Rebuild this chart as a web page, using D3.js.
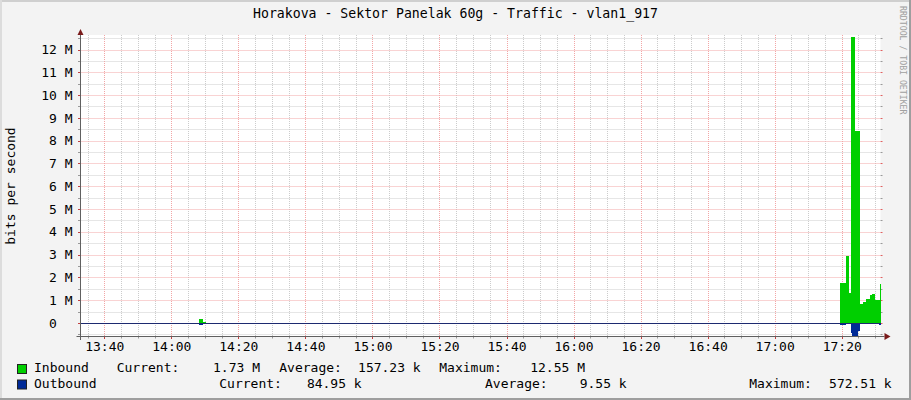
<!DOCTYPE html>
<html><head><meta charset="utf-8">
<script src="https://cdn.jsdelivr.net/npm/d3@7"></script>
<style>
body{margin:0;background:#f3f3f3;overflow:hidden}
svg text{font-family:"DejaVu Sans Mono",monospace;white-space:pre}
</style></head><body>
<svg id="c" width="911" height="400"></svg>
<script>
// ---------- data ----------
const title = "Horakova - Sektor Panelak 60g - Traffic - vlan1_917";
const yLabel = "bits per second";
const credit = "RRDTOOL / TOBI OETIKER";
const timeRange = ["13:32:54", "17:31:34"];
// step series: each value holds from its time until the next time (Mbit/s)
const inTimes  = ["13:32:54","14:08:20","14:09:32","14:10:26","17:19:30","17:21:17","17:22:11","17:22:52","17:23:58","17:25:27","17:26:21","17:27:15","17:28:26","17:29:02","17:29:56","17:31:18","17:31:34"];
const inValues = [0, 0.17, 0.04, 0, 1.76, 2.93, 1.32, 12.55, 8.41, 0.84, 0.90, 1.07, 1.24, 1.27, 1.00, 1.73, 1.73];
const outTimes  = ["13:32:54","14:08:20","14:09:32","17:19:30","17:21:17","17:22:52","17:23:10","17:24:46","17:25:27","17:31:06","17:31:34"];
const outValues = [0, 0.07, 0, 0.11, 0.06, 0.43, 0.5725, 0.37, 0.06, 0.085, 0.085];
const yDomain = [-0.5725, 12.55];
const yTicks = [0,1,2,3,4,5,6,7,8,9,10,11,12];
const xTickLabels = ["13:40","14:00","14:20","14:40","15:00","15:20","15:40","16:00","16:20","16:40","17:00","17:20"];
const legendNames = ["Inbound", "Outbound"];
const legendColors = ["#00CF00", "#002A97"];
const inStats  = ["1.73 M", "157.23 k", "12.55 M"];
const outStats = ["84.95 k", "9.55 k", "572.51 k"];
const statNames = ["Current:", "Average:", "Maximum:"];

// ---------- layout ----------
const W = 911, H = 400;
const L = 80.5, R = 880.5, T = 35, B = 336;
const svg = d3.select("#c");
const parse = d3.timeParse("%H:%M:%S");

// frame
svg.append("rect").attr("x",0).attr("y",0).attr("width",W).attr("height",H).attr("fill","#f3f3f3");
svg.append("rect").attr("x",0).attr("y",0).attr("width",W).attr("height",2).attr("fill","#cfcfcf");
svg.append("rect").attr("x",0).attr("y",0).attr("width",2).attr("height",H).attr("fill","#dcdcdc");
svg.append("rect").attr("x",W-2).attr("y",0).attr("width",2).attr("height",H).attr("fill","#9e9e9e");
svg.append("rect").attr("x",0).attr("y",H-2).attr("width",W).attr("height",2).attr("fill","#9e9e9e");

// plot background
svg.append("rect").attr("x",81).attr("y",T).attr("width",R-81).attr("height",B-T).attr("fill","#ffffff");

const x = d3.scaleTime().domain(timeRange.map(parse)).range([L, R]);
const y = d3.scaleLinear().domain(yDomain).range([B, 37]);

const grid = svg.append("g");
const minorC = "#cccccc", majorC = "#f2a6a6";
// horizontal minor grid (every 0.5M)
const yMinor = d3.range(Math.ceil(yDomain[0]*2)/2, yDomain[1], 0.5).filter(v => Math.abs(v - Math.round(v)) > 0.01);
yMinor.forEach(v => {
  const py = Math.round(y(v)) + 0.5;
  grid.append("line").attr("x1",L).attr("x2",R).attr("y1",py).attr("y2",py)
    .attr("stroke",minorC).attr("stroke-dasharray","1,1");
  grid.append("line").attr("x1",L-2.5).attr("x2",L).attr("y1",py).attr("y2",py).attr("stroke","#999");
  grid.append("line").attr("x1",R).attr("x2",R+2).attr("y1",py).attr("y2",py).attr("stroke","#999");
});
// vertical minor grid (every 5 min)
x.ticks(d3.timeMinute.every(5)).filter(d => d.getMinutes() % 20 !== 0).forEach(d => {
  const px = Math.round(x(d)) + 0.5;
  grid.append("line").attr("x1",px).attr("x2",px).attr("y1",T).attr("y2",B)
    .attr("stroke",minorC).attr("stroke-dasharray","1,1");
  grid.append("line").attr("x1",px).attr("x2",px).attr("y1",B).attr("y2",B+2.5).attr("stroke","#999");
});
// major horizontal
yTicks.forEach(v => {
  const py = Math.round(y(v)) + 0.5;
  grid.append("line").attr("x1",L).attr("x2",R).attr("y1",py).attr("y2",py)
    .attr("stroke",majorC).attr("stroke-dasharray","1,1");
  grid.append("line").attr("x1",L-2.5).attr("x2",L).attr("y1",py).attr("y2",py).attr("stroke","#c04040");
  grid.append("line").attr("x1",R).attr("x2",R+2).attr("y1",py).attr("y2",py).attr("stroke","#e06060");
});
// major vertical
const xMajor = x.ticks(d3.timeMinute.every(20));
xMajor.forEach(d => {
  const px = Math.round(x(d)) + 0.5;
  grid.append("line").attr("x1",px).attr("x2",px).attr("y1",T).attr("y2",B)
    .attr("stroke",majorC).attr("stroke-dasharray","1,1");
  grid.append("line").attr("x1",px).attr("x2",px).attr("y1",B).attr("y2",B+3).attr("stroke","#c04040");
});

// data areas
function series(times, vals, sign) {
  return times.map((t,i) => ({t: parse(t), v: sign*vals[i]}));
}
const area = d3.area().x(d => x(d.t)).y0(y(0)).y1(d => y(d.v)).curve(d3.curveStepAfter);
svg.append("path").datum(series(inTimes, inValues, 1)).attr("d", area)
  .attr("fill", legendColors[0]).attr("shape-rendering","crispEdges");
svg.append("path").datum(series(outTimes, outValues, -1)).attr("d", area)
  .attr("fill", legendColors[1]).attr("shape-rendering","crispEdges");
// zero line
const zy = Math.round(y(0)) + 0.5;
svg.append("line").attr("x1",L).attr("x2",R).attr("y1",zy).attr("y2",zy).attr("stroke","#1d2a70");

// axes lines
svg.append("line").attr("x1",L).attr("x2",L).attr("y1",31).attr("y2",B+4).attr("stroke","#606060");
svg.append("line").attr("x1",L-4).attr("x2",R+4).attr("y1",B+0.5).attr("y2",B+0.5).attr("stroke","#606060");
svg.append("path").attr("d",`M${L-3},${35}L${L},${29}L${L+3},${35}Z`).attr("fill","#7a1a1a");
svg.append("path").attr("d",`M${R+4},${B+0.5-3.5}L${R+10},${B+0.5}L${R+4},${B+0.5+3.5}Z`).attr("fill","#7a1a1a");

// y labels
const fmt = v => v === 0 ? "0  " : v + " M";
svg.append("g").selectAll("text").data(yTicks).join("text")
  .attr("x", 72.5).attr("y", d => y(d)).attr("dy","0.36em")
  .attr("text-anchor","end").attr("font-size",13).attr("fill","#000")
  .text(fmt);
// x labels
svg.append("g").selectAll("text").data(xMajor).join("text")
  .attr("x", d => x(d) + 0.5).attr("y", 350.5)
  .attr("text-anchor","middle").attr("font-size",13).attr("fill","#000")
  .text((d,i) => xTickLabels[i]);

// title
svg.append("text").attr("x", W/2).attr("y", 18.3).attr("text-anchor","middle")
  .attr("font-size",13.2).attr("fill","#000").text(title);
// y axis title
svg.append("text").attr("transform","translate(15,186) rotate(-90)").attr("text-anchor","middle")
  .attr("font-size",13).attr("fill","#000").text(yLabel);
// credit
svg.append("text").attr("transform","translate(900,6) rotate(90)").attr("text-anchor","start")
  .attr("font-size",8.2).attr("fill","#a0a0a0").text(credit);

// legend
const rowsY = [372.3, 388.3];
const boxY = [364, 379.5];
const labelX = [[116.7, 279.3, 439.3], [219.3, 485, 749.3]];
const valueEnd = [[260, 420.7, 585], [361.7, 626.7, 891.7]];
const stats = [inStats, outStats];
legendNames.forEach((n, r) => {
  svg.append("rect").attr("x",17.5).attr("y",boxY[r]+0.5).attr("width",9).attr("height",9)
    .attr("fill",legendColors[r]).attr("stroke","#222").attr("stroke-width",1);
  svg.append("text").attr("x",34).attr("y",rowsY[r]).attr("font-size",13).attr("fill","#000").text(n);
  statNames.forEach((s, k) => {
    svg.append("text").attr("x",labelX[r][k]).attr("y",rowsY[r]).attr("font-size",13).attr("fill","#000").text(s);
    svg.append("text").attr("x",valueEnd[r][k]).attr("y",rowsY[r]).attr("text-anchor","end")
      .attr("font-size",13).attr("fill","#000").text(stats[r][k]);
  });
});
</script>
</body></html>
